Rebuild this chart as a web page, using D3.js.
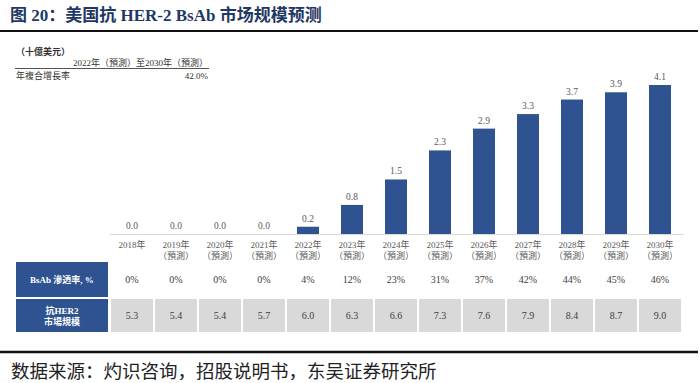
<!DOCTYPE html>
<html>
<head>
<meta charset="utf-8">
<script src="https://cdn.jsdelivr.net/npm/d3@7"></script>
<style>
  html, body { margin: 0; padding: 0; background: #fff; }
  svg { display: block; }
  text { font-family: "Liberation Serif", "Noto Sans CJK SC", serif; }
</style>
</head>
<body>
<div id="chart"></div>
<script>
// US anti-HER-2 BsAb market size forecast, bars + two-row data table.

const years = ['2018', '2019', '2020', '2021', '2022', '2023', '2024', '2025', '2026', '2027', '2028', '2029', '2030'];
const forecast = [false, true, true, true, true, true, true, true, true, true, true, true, true];
const bsabMarket = [0.0, 0.0, 0.0, 0.0, 0.2, 0.8, 1.5, 2.3, 2.9, 3.3, 3.7, 3.9, 4.1];
const penetration = [0, 0, 0, 0, 4, 12, 23, 31, 37, 42, 44, 45, 46];
const her2Market = [5.3, 5.4, 5.4, 5.7, 6.0, 6.3, 6.6, 7.3, 7.6, 7.9, 8.4, 8.7, 9.0];

const W = 700, H = 383;
const navy = '#2f5391';
const titleColor = '#1f3864';

const svg = d3.select('#chart').append('svg')
  .attr('width', W).attr('height', H)
  .attr('viewBox', `0 0 ${W} ${H}`);

// title + rules
svg.append('text')
  .attr('x', 10).attr('y', 21)
  .attr('fill', titleColor)
  .attr('font-size', 17).attr('font-weight', 'bold')
  .text('图 20：美国抗 HER-2 BsAb 市场规模预测');

svg.append('line').attr('x1', 0).attr('x2', 698).attr('y1', 31).attr('y2', 31)
  .attr('stroke', '#111').attr('stroke-width', 2);
svg.append('line').attr('x1', 0).attr('x2', 698).attr('y1', 352).attr('y2', 352)
  .attr('stroke', '#111').attr('stroke-width', 2.5);

// CAGR note
const note = svg.append('g').attr('fill', '#333').attr('font-size', 9);
note.append('text').attr('x', 16).attr('y', 55).attr('font-weight', 'bold').text('（十億美元）');
note.append('text').attr('x', 208).attr('y', 66).attr('text-anchor', 'end').text('2022年（預測）至2030年（預測）');
note.append('line').attr('x1', 15).attr('x2', 209).attr('y1', 68.5).attr('y2', 68.5)
  .attr('stroke', '#555').attr('stroke-width', 1);
note.append('text').attr('x', 16).attr('y', 79).text('年複合增長率');
note.append('text').attr('x', 208).attr('y', 79).attr('text-anchor', 'end').text('42.0%');

// scales
const x = d3.scaleBand().domain(years).range([110, 682]).paddingInner(0.5).paddingOuter(0.25);
const cell = d3.scaleBand().domain(years).range([110, 682]).paddingInner(0);
const y = d3.scaleLinear().domain([0, 4.1]).range([234, 85]);

// baseline
svg.append('line').attr('x1', 110).attr('x2', 684).attr('y1', y(0) + 0.5).attr('y2', y(0) + 0.5)
  .attr('stroke', '#d9d9d9').attr('stroke-width', 1);

// bars
svg.append('g').selectAll('rect').data(years).join('rect')
  .attr('x', (d) => x(d))
  .attr('width', x.bandwidth())
  .attr('y', (d, i) => y(bsabMarket[i]))
  .attr('height', (d, i) => y(0) - y(bsabMarket[i]))
  .attr('fill', navy);

// value labels
svg.append('g').selectAll('text').data(years).join('text')
  .attr('x', (d) => x(d) + x.bandwidth() / 2)
  .attr('y', (d, i) => y(bsabMarket[i]) - 5)
  .attr('text-anchor', 'middle')
  .attr('font-size', 9.5).attr('fill', '#595959')
  .text((d, i) => bsabMarket[i].toFixed(1));

// category labels
const cat = svg.append('g').selectAll('text').data(years).join('text')
  .attr('x', (d) => x(d) + x.bandwidth() / 2)
  .attr('text-anchor', 'middle')
  .attr('font-size', 9).attr('fill', '#595959');
cat.append('tspan').attr('x', (d) => x(d) + x.bandwidth() / 2).attr('y', 248).text((d) => d + '年');
cat.filter((d, i) => forecast[i]).append('tspan')
  .attr('x', (d) => x(d) + x.bandwidth() / 2).attr('y', 259).text('（預測）');

// table
const rows = [
  { top: 262, bottom: 297, fill: 'none', values: penetration.map((v) => v + '%'), head: ['BsAb 滲透率, %'] },
  { top: 299, bottom: 332, fill: '#d9d9d9', values: her2Market.map((v) => v.toFixed(1)), head: ['抗HER2', '市場規模'] },
];

rows.forEach((r) => {
  svg.append('rect').attr('x', 16).attr('y', r.top).attr('width', 92).attr('height', r.bottom - r.top)
    .attr('fill', navy);
  const mid = (r.top + r.bottom) / 2;
  const head = svg.append('text').attr('text-anchor', 'middle').attr('fill', '#fff')
    .attr('font-size', 9).attr('font-weight', 'bold');
  r.head.forEach((line, k) => {
    head.append('tspan').attr('x', 62)
      .attr('y', mid + 3.5 + (k - (r.head.length - 1) / 2) * 11)
      .text(line);
  });

  const g = svg.append('g');
  if (r.fill !== 'none') {
    g.selectAll('rect').data(years).join('rect')
      .attr('x', (d) => cell(d) + 1)
      .attr('width', cell.bandwidth() - 2)
      .attr('y', r.top).attr('height', r.bottom - r.top)
      .attr('fill', r.fill);
  }
  g.selectAll('text').data(years).join('text')
    .attr('x', (d) => x(d) + x.bandwidth() / 2)
    .attr('y', mid + 3.5)
    .attr('text-anchor', 'middle')
    .attr('font-size', 10).attr('fill', '#404040')
    .text((d, i) => r.values[i]);
});

// source
svg.append('text')
  .attr('x', 11).attr('y', 378)
  .attr('font-size', 18.5).attr('fill', '#222')
  .attr('font-family', '"Noto Sans CJK SC", sans-serif')
  .text('数据来源：灼识咨询，招股说明书，东吴证券研究所');
</script>
</body>
</html>
